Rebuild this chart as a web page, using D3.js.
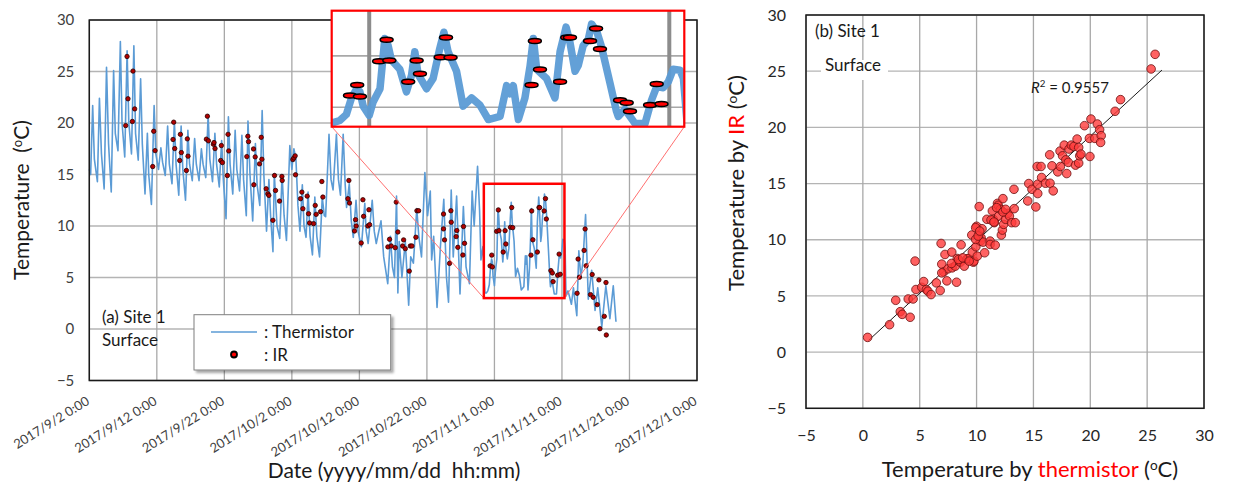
<!DOCTYPE html>
<html>
<head>
<meta charset="utf-8">
<script src="https://cdn.jsdelivr.net/npm/d3@7"></script>
<style>
body { margin: 0; background: #fff; }
svg { font-family: Lato, 'Open Sans', sans-serif; }
svg text { white-space: pre; }
</style>
</head>
<body>
<svg id="chart" width="1240" height="486"></svg>
<script>
// days are counted from 2017/9/2 0:00
const startDate = Date.UTC(2017, 8, 2);
const dateTickDays = [0, 10, 20, 30, 40, 50, 60, 70, 80, 90];
const tempTicks = [-5, 0, 5, 10, 15, 20, 25, 30];
const scatterTicks = [-5, 0, 5, 10, 15, 20, 25, 30];

// thermistor record: [day, temperature]
const thermistor = [
    [0.0, 15.5], [0.2, 15.0], [0.5, 21.7], [0.75, 16.5], [1.2, 14.3], [1.5, 22.4], [1.8, 17], [2.2, 13.6],
    [2.55, 25.4], [2.85, 18], [3.25, 13.3], [3.6, 25.1], [3.85, 19], [4.25, 17.3], [4.6, 27.9], [4.85, 20],
    [5.25, 16.7], [5.6, 27.0], [5.85, 20], [6.25, 17.0], [6.6, 27.5], [6.85, 19], [7.25, 16.4], [7.6, 24.3],
    [7.85, 18], [8.25, 13.1], [8.6, 19.0], [8.8, 15], [9.2, 12.1], [9.6, 21.7], [9.85, 17], [10.25, 15.5],
    [10.6, 17.6], [10.85, 16.2], [11.25, 14.9], [11.6, 19.7], [11.85, 16], [12.25, 14.1], [12.6, 20.2],
    [12.85, 16], [13.25, 13.0], [13.6, 19.7], [13.85, 15.5], [14.25, 12.5], [14.6, 19.3], [14.85, 16],
    [15.25, 14.4], [15.6, 18.5], [15.85, 16], [16.25, 14.4], [16.6, 17.5], [16.85, 16], [17.25, 14.7],
    [17.6, 20.8], [17.85, 16.5], [18.25, 14.3], [18.6, 19.0], [18.85, 16], [19.25, 13.8], [19.6, 18.3],
    [19.85, 14.5], [20.25, 10.7], [20.6, 20.6], [20.85, 16], [21.25, 13.1], [21.6, 19.3], [21.85, 15.5],
    [22.25, 13.4], [22.6, 18.8], [22.85, 14.5], [23.25, 11.0], [23.5, 20.2], [23.8, 15], [24.2, 10.5],
    [24.6, 18], [24.85, 14], [25.25, 12], [25.6, 21.2], [25.85, 15], [26.25, 9.5], [26.6, 14.5], [26.85, 11],
    [27.2, 7.5], [27.4, 15.1], [27.8, 10], [28.2, 8.8], [28.55, 15.0], [28.85, 11], [29.2, 8.6], [29.7, 17.8],
    [30.0, 15.5], [30.3, 17.5], [30.6, 16.5], [30.9, 12], [31.2, 9.5], [31.55, 14], [31.8, 10], [32.1, 8.9],
    [32.4, 13.3], [32.7, 9], [33.05, 7.2], [33.4, 12.8], [33.7, 9], [34.1, 7.0], [34.5, 12.8], [34.8, 11],
    [35.0, 10.9], [35.5, 18.9], [35.8, 14.5], [36.1, 13.5], [36.6, 18.9], [36.9, 14.5], [37.2, 13.0],
    [37.6, 18.9], [37.9, 14], [38.1, 11.8], [38.5, 14.1], [38.8, 10.5], [39.1, 8.9], [39.5, 12.5],
    [39.8, 9.5], [40.3, 8.0], [40.8, 12.2], [41.0, 9.5], [41.3, 8.3], [41.9, 12.5], [42.2, 9.5], [42.5, 8.3],
    [43.2, 10.5], [43.6, 7], [44.2, 4.4], [44.6, 9], [44.9, 6], [45.2, 5], [45.5, 12.9], [45.7, 3.5],
    [45.9, 8.5], [46.3, 5], [46.8, 8.5], [47.3, 2.3], [47.6, 7], [48.0, 6.4], [48.5, 11.7], [48.8, 9],
    [49.2, 7], [49.7, 15.2], [50.1, 11], [50.5, 13.4], [50.7, 6.7], [51.0, 9], [51.5, 2.1], [52.0, 8],
    [52.5, 12.6], [52.9, 5], [53.2, 2.6], [53.6, 13.5], [53.9, 7], [54.4, 12.9], [54.9, 3.4], [55.4, 11.9],
    [55.8, 6], [56.3, 4.4], [56.7, 13.4], [57.0, 10], [57.5, 15.8], [57.8, 11.5], [58.0, 6.7], [58.3, 8],
    [58.6, 3.5], [58.8, 3.5], [59.02, 3.7], [59.24, 4.3], [59.41, 5.9], [59.58, 6.8], [59.69, 6.5],
    [59.8, 5.1], [60.0, 4.2], [60.13, 5.5], [60.36, 6.8], [60.52, 11.7], [60.63, 11.0], [60.74, 9.6],
    [61.02, 8.7], [61.24, 6.5], [61.41, 8.1], [61.52, 10.4], [61.63, 8.2], [61.91, 6.8], [62.13, 7.8],
    [62.35, 10.7], [62.49, 12.3], [62.63, 10.4], [62.91, 8.5], [63.13, 5.1], [63.41, 5.9], [63.69, 5.2],
    [63.97, 3.8], [64.36, 4.1], [64.58, 7.1], [64.69, 6.3], [64.8, 7.1], [64.97, 3.8], [65.19, 5.9],
    [65.36, 9.0], [65.47, 11.7], [65.58, 8.7], [65.91, 7.8], [66.19, 5.9], [66.36, 10.4], [66.56, 12.8],
    [66.69, 11.3], [66.86, 8.5], [66.97, 9.1], [67.13, 11.0], [67.3, 11.6], [67.41, 13.1], [67.58, 12.4],
    [67.74, 10.9], [68.02, 7.4], [68.24, 4.6], [68.3, 4.1], [68.52, 4.8], [68.86, 3.4], [69.19, 3.4],
    [69.41, 5.7], [69.58, 7.0], [69.8, 6.9], [69.97, 7.5], [70.13, 8.7], [70.36, 8.6], [70.47, 7.8],
    [70.6, 3.2], [70.9, 3.7], [71.4, 2.4], [71.7, 4], [72.2, 1.3], [72.5, 7.6], [72.8, 5], [73.1, 6.5],
    [73.5, 11.1], [73.9, 2.9], [74.4, 5.7], [74.9, 1.8], [75.3, 4], [75.9, 0.2], [76.5, 4.2], [77.1, 1.0],
    [77.6, 4.2], [78.0, 0.7]
];

// IR readings: [day, temperature]
const irReadings = [
    [5.39, 19.75], [5.59, 26.46], [5.73, 22.35], [6.38, 20.15], [6.47, 25.04], [6.72, 21.37],
    [9.39, 15.77], [9.54, 19.2], [9.74, 17.32], [12.4, 18.4], [12.5, 20.08], [12.65, 17.52],
    [13.39, 16.36], [13.49, 18.9], [13.63, 17.13], [14.38, 15.39], [14.52, 18.46], [14.62, 16.78],
    [17.34, 18.43], [17.49, 20.66], [17.64, 18.27], [18.38, 17.94], [18.47, 18.1], [18.62, 17.52],
    [19.46, 16.36], [19.56, 17.81], [19.71, 16.16], [20.45, 14.9], [20.55, 18.9], [20.65, 17.29],
    [23.33, 16.74], [23.48, 18.71], [23.58, 18.19], [24.32, 17.48], [24.37, 14.0], [24.57, 16.71],
    [25.21, 16.03], [25.46, 18.61], [25.56, 16.48], [26.2, 13.61], [26.44, 13.13], [26.59, 12.97],
    [27.19, 10.55], [27.43, 14.9], [27.58, 13.45], [28.17, 12.42], [28.52, 14.81], [28.57, 14.42],
    [30.15, 16.45], [30.3, 16.61], [30.49, 16.81], [30.54, 14.97], [31.28, 12.65], [31.48, 13.29],
    [31.63, 11.68], [32.27, 12.9], [32.47, 11.19], [32.62, 10.29], [33.21, 10.23], [33.46, 12.0],
    [33.6, 11.13], [34.25, 11.39], [34.44, 14.32], [34.59, 12.81], [38.3, 12.65], [38.44, 14.42],
    [38.54, 12.23], [39.28, 9.52], [39.43, 10.61], [39.53, 10.0], [40.27, 8.35], [40.52, 12.55],
    [40.62, 10.94], [41.26, 10.0], [41.41, 11.58], [41.51, 10.13], [44.22, 7.97], [44.47, 8.71],
    [44.72, 8.06], [45.31, 7.9], [45.46, 12.32], [45.7, 9.42], [46.4, 8.06], [46.55, 8.65], [46.8, 7.8],
    [47.39, 5.62], [47.54, 8.06], [47.78, 8.06], [48.37, 8.91], [48.52, 11.48], [48.77, 11.48],
    [52.46, 11.16], [52.46, 9.72], [52.61, 8.65], [53.35, 6.37], [53.55, 11.48], [53.6, 10.37],
    [54.33, 8.97], [54.43, 9.56], [54.58, 7.93], [55.32, 7.18], [55.42, 9.95], [55.57, 8.32],
    [59.36, 6.13], [59.6, 7.17], [59.69, 6.03], [60.33, 9.48], [60.58, 11.56], [60.67, 9.55],
    [61.3, 7.47], [61.58, 9.55], [61.69, 8.25], [62.38, 9.87], [62.56, 11.79], [62.71, 9.84],
    [65.41, 7.17], [65.52, 11.46], [65.69, 8.66], [66.36, 7.47], [66.6, 11.79], [66.69, 11.79],
    [67.36, 11.46], [67.56, 12.66], [67.69, 10.68], [68.36, 5.67], [68.58, 5.44], [68.69, 4.6],
    [69.36, 5.22], [69.58, 7.27], [69.74, 5.31], [72.24, 3.47], [72.39, 6.79], [72.59, 5.03],
    [73.28, 7.63], [73.43, 9.71], [73.58, 6.14], [74.23, 3.34], [74.48, 5.29], [74.63, 3.08],
    [75.22, 2.37], [75.47, 4.77], [75.62, 0.03], [76.27, 1.23], [76.52, 4.51], [76.57, -0.58]
];

// paired readings: [thermistor, IR]
const scatterPoints = [
    [0.42, 1.31], [2.35, 2.44], [2.89, 4.61], [3.29, 3.6], [3.46, 3.36], [4.16, 3.1], [3.99, 4.73],
    [4.42, 4.73], [4.59, 8.1], [4.67, 5.57], [5.18, 5.77], [5.35, 6.28], [5.58, 5.57], [5.72, 5.42],
    [6.0, 5.12], [6.46, 6.16], [6.8, 5.48], [6.88, 9.67], [6.94, 7.83], [7.11, 7.14], [7.22, 8.69],
    [7.39, 6.34], [7.48, 7.41], [7.82, 8.9], [7.85, 7.5], [8.13, 7.65], [8.24, 6.22], [8.3, 8.33],
    [8.47, 8.07], [8.64, 9.55], [8.58, 8.0], [8.92, 7.65], [9.15, 8.3], [9.26, 8.33], [9.63, 8.9],
    [9.72, 8.0], [9.58, 10.42], [9.77, 8.1], [9.94, 9.38], [10.0, 11.2], [10.06, 8.54], [10.23, 12.95],
    [10.23, 10.42], [10.4, 10.18], [10.48, 10.98], [10.34, 9.88], [10.71, 8.84], [10.57, 9.79],
    [9.92, 10.03], [10.91, 11.82], [11.19, 9.88], [11.19, 9.58], [11.39, 12.56], [11.47, 11.82],
    [11.56, 11.52], [11.64, 9.52], [11.84, 13.24], [11.9, 13.07], [11.95, 12.11], [12.1, 12.71],
    [12.18, 10.42], [12.27, 10.86], [12.32, 13.66], [12.38, 11.37], [12.55, 11.82], [12.75, 12.35],
    [12.89, 12.11], [13.09, 11.52], [13.31, 12.77], [13.4, 11.52], [13.29, 14.49], [14.5, 13.45],
    [14.59, 15.0], [14.87, 14.49], [15.21, 12.92], [15.38, 14.94], [15.38, 14.11], [15.72, 15.54],
    [15.33, 16.52], [15.67, 16.52], [16.06, 15.03], [16.46, 15.03], [16.74, 14.35], [16.43, 17.56],
    [16.63, 16.58], [17.14, 16.04], [17.37, 16.52], [17.34, 17.89], [17.56, 17.47], [17.71, 18.42],
    [17.85, 17.11], [17.93, 15.89], [18.07, 16.88], [18.13, 18.07], [18.33, 18.42], [18.56, 18.3],
    [18.7, 16.64], [18.84, 18.96], [18.98, 18.21], [18.98, 16.82], [19.07, 17.47], [19.18, 17.62],
    [19.49, 20.15], [19.92, 19.02], [20.06, 20.74], [19.97, 17.41], [20.4, 19.02], [20.62, 20.3],
    [20.82, 19.79], [20.96, 19.26], [20.91, 18.66], [22.18, 21.43], [22.66, 22.47], [25.35, 25.2],
    [25.7, 26.5], [11.27, 11.76], [11.53, 11.58], [11.76, 12.86], [12.32, 12.47], [12.55, 12.71],
    [9.92, 11.07], [10.14, 10.33], [10.28, 10.77], [7.79, 7.89], [8.41, 8.24], [8.78, 8.39],
    [9.35, 8.1], [6.94, 7.05]
];
const fitRange = [0.5, 26.3];

// zoomed window (small red box) and the part shown in the inset
const zoomDays = [58.43, 70.37];
const zoomTemps = [3.0, 14.1];
const insetDays = [58.75, 70.5];
const insetTemps = [3.1, 14.4];
const insetGridDays = [60, 70];
const insetGridTemps = [5, 10];

const dayToDate = (d) => new Date(startDate + d * 864e5);

const svg = d3.select('#chart');
const defs = svg.append('defs');
defs.append('filter').attr('id', 'shadow')
    .append('feDropShadow')
    .attr('dx', 2.5).attr('dy', 2.5).attr('stdDeviation', 1.2)
    .attr('flood-color', '#000').attr('flood-opacity', 0.35);

// ---------- (a) time series ----------
const left = { x0: 89.3, x1: 697, y0: 20, y1: 380.5 };
const x = d3.scaleUtc().domain([dayToDate(0), dayToDate(90)]).range([left.x0, left.x1]);
const y = d3.scaleLinear().domain([-5, 30]).range([left.y1, left.y0]);

const gA = svg.append('g');
gA.append('g').selectAll('line').data(tempTicks).join('line')
    .attr('x1', left.x0).attr('x2', left.x1)
    .attr('y1', (t) => y(t)).attr('y2', (t) => y(t))
    .attr('stroke', '#b4b4b4').attr('stroke-width', 1.3);
gA.append('g').selectAll('line').data(dateTickDays).join('line')
    .attr('x1', (d) => x(dayToDate(d))).attr('x2', (d) => x(dayToDate(d)))
    .attr('y1', left.y0).attr('y2', left.y1)
    .attr('stroke', '#a8a8a8').attr('stroke-width', 1.3);

const yAxisA = gA.append('g')
    .attr('transform', 'translate(' + left.x0 + ',0)')
    .call(d3.axisLeft(y).tickValues(tempTicks).tickSize(0).tickPadding(15));
yAxisA.select('.domain').remove();
yAxisA.selectAll('text').attr('font-size', 15).attr('fill', '#404040').attr('font-family', 'Lato');

const fmt = d3.utcFormat('%Y/%-m/%-d %-H:%M');
gA.append('g').selectAll('text').data(dateTickDays).join('text')
    .attr('transform', (d) => 'translate(' + (x(dayToDate(d)) + 1) + ',' + (left.y1 + 23) + ') rotate(-32)')
    .attr('text-anchor', 'end')
    .attr('font-size', 13).attr('fill', '#404040')
    .text((d) => fmt(dayToDate(d)));

const line = d3.line()
    .x((p) => x(dayToDate(p[0])))
    .y((p) => y(p[1]));
gA.append('path').datum(thermistor)
    .attr('d', line)
    .attr('fill', 'none').attr('stroke', '#5b9bd5').attr('stroke-width', 1.6)
    .attr('stroke-linejoin', 'round');

gA.append('g').selectAll('circle').data(irReadings).join('circle')
    .attr('cx', (p) => x(dayToDate(p[0])))
    .attr('cy', (p) => y(p[1]))
    .attr('r', 2.2)
    .attr('fill', '#b00000').attr('stroke', '#2a0000').attr('stroke-width', 0.8);

gA.append('rect')
    .attr('x', left.x0).attr('y', left.y0)
    .attr('width', left.x1 - left.x0).attr('height', left.y1 - left.y0)
    .attr('fill', 'none').attr('stroke', '#1a1a1a').attr('stroke-width', 1.5);

// small zoom box and connectors
const zb = {
    x0: x(dayToDate(zoomDays[0])), x1: x(dayToDate(zoomDays[1])),
    y0: y(zoomTemps[1]), y1: y(zoomTemps[0])
};
const inset = { x0: 331.7, x1: 684.3, y0: 10.7, y1: 126.7 };
gA.append('line').attr('x1', inset.x0).attr('y1', inset.y1).attr('x2', zb.x0).attr('y2', zb.y1)
    .attr('stroke', '#ff7070').attr('stroke-width', 1);
gA.append('line').attr('x1', inset.x1).attr('y1', inset.y1).attr('x2', zb.x1).attr('y2', zb.y1)
    .attr('stroke', '#ff7070').attr('stroke-width', 1);
gA.append('rect')
    .attr('x', zb.x0).attr('y', zb.y0)
    .attr('width', zb.x1 - zb.x0).attr('height', zb.y1 - zb.y0)
    .attr('fill', 'none').attr('stroke', '#ff0000').attr('stroke-width', 2.5);

// inset
const ix = d3.scaleUtc().domain(insetDays.map(dayToDate)).range([inset.x0, inset.x1]);
const iy = d3.scaleLinear().domain(insetTemps).range([inset.y1, inset.y0]);
defs.append('clipPath').attr('id', 'inset-clip')
    .append('rect')
    .attr('x', inset.x0).attr('y', inset.y0)
    .attr('width', inset.x1 - inset.x0).attr('height', inset.y1 - inset.y0);
const gI = gA.append('g');
gI.append('rect')
    .attr('x', inset.x0).attr('y', inset.y0)
    .attr('width', inset.x1 - inset.x0).attr('height', inset.y1 - inset.y0)
    .attr('fill', '#fff');
const gIc = gI.append('g').attr('clip-path', 'url(#inset-clip)');
gIc.selectAll('line.h').data(insetGridTemps).join('line')
    .attr('class', 'h')
    .attr('x1', inset.x0).attr('x2', inset.x1)
    .attr('y1', (t) => iy(t)).attr('y2', (t) => iy(t))
    .attr('stroke', '#a8a8a8').attr('stroke-width', 1.6);
gIc.selectAll('line.v').data(insetGridDays).join('line')
    .attr('class', 'v')
    .attr('x1', (d) => ix(dayToDate(d))).attr('x2', (d) => ix(dayToDate(d)))
    .attr('y1', inset.y0).attr('y2', inset.y1)
    .attr('stroke', '#8c8c8c').attr('stroke-width', 4);
const insetLine = d3.line()
    .x((p) => ix(dayToDate(p[0])))
    .y((p) => iy(p[1]));
gIc.append('path').datum(thermistor)
    .attr('d', insetLine)
    .attr('fill', 'none').attr('stroke', '#5b9bd5').attr('stroke-width', 7.5)
    .attr('stroke-linejoin', 'round').attr('opacity', 0.95);
gIc.selectAll('ellipse').data(irReadings).join('ellipse')
    .attr('cx', (p) => ix(dayToDate(p[0])))
    .attr('cy', (p) => iy(p[1]))
    .attr('rx', 6.5).attr('ry', 2.5)
    .attr('fill', '#ff0000').attr('stroke', '#000').attr('stroke-width', 1.5);
gI.append('rect')
    .attr('x', inset.x0).attr('y', inset.y0)
    .attr('width', inset.x1 - inset.x0).attr('height', inset.y1 - inset.y0)
    .attr('fill', 'none').attr('stroke', '#ff0000').attr('stroke-width', 2.2);

// labels
gA.append('text').attr('x', 102).attr('y', 323).attr('font-size', 17).attr('fill', '#1a1a1a').text('(a) Site 1');
gA.append('text').attr('x', 102).attr('y', 346).attr('font-size', 17).attr('fill', '#1a1a1a').text('Surface');

const legend = gA.append('g');
legend.append('rect')
    .attr('x', 194).attr('y', 314.7).attr('width', 196.7).attr('height', 55.3)
    .attr('fill', '#fff').attr('stroke', '#7f7f7f').attr('stroke-width', 1)
    .attr('filter', 'url(#shadow)');
legend.append('line').attr('x1', 211).attr('x2', 257).attr('y1', 332).attr('y2', 332)
    .attr('stroke', '#5b9bd5').attr('stroke-width', 1.5);
legend.append('text').attr('x', 264).attr('y', 338).attr('font-size', 17).attr('fill', '#1a1a1a').text(': Thermistor');
legend.append('circle').attr('cx', 234).attr('cy', 354.5).attr('r', 3)
    .attr('fill', '#ff0000').attr('stroke', '#000').attr('stroke-width', 1.8);
legend.append('text').attr('x', 264).attr('y', 361).attr('font-size', 17).attr('fill', '#1a1a1a').text(': IR');

const degLabel = (sel) => {
    sel.append('tspan').text('(');
    sel.append('tspan').attr('dy', -7).attr('font-size', '0.62em').text('o');
    sel.append('tspan').attr('dy', 7).text('C)');
};

gA.append('text')
    .attr('x', 394).attr('y', 478)
    .attr('text-anchor', 'middle').attr('font-size', 21).attr('fill', '#1a1a1a')
    .text('Date (yyyy/mm/dd  hh:mm)');
const yTitleA = gA.append('text')
    .attr('transform', 'translate(29,200) rotate(-90)')
    .attr('text-anchor', 'middle').attr('font-size', 21).attr('fill', '#1a1a1a');
yTitleA.append('tspan').text('Temperature  ');
degLabel(yTitleA);

// ---------- (b) scatter ----------
const right = { x0: 806, x1: 1204, y0: 15, y1: 408.3 };
const sx = d3.scaleLinear().domain([-5, 30]).range([right.x0, right.x1]);
const sy = d3.scaleLinear().domain([-5, 30]).range([right.y1, right.y0]);
const gB = svg.append('g');

gB.append('g').selectAll('line').data(scatterTicks).join('line')
    .attr('x1', right.x0).attr('x2', right.x1)
    .attr('y1', (t) => sy(t)).attr('y2', (t) => sy(t))
    .attr('stroke', '#b4b4b4').attr('stroke-width', 1.3);
gB.append('g').selectAll('line').data(scatterTicks).join('line')
    .attr('x1', (t) => sx(t)).attr('x2', (t) => sx(t))
    .attr('y1', right.y0).attr('y2', right.y1)
    .attr('stroke', '#a8a8a8').attr('stroke-width', 1.3);

const yAxisB = gB.append('g')
    .attr('transform', 'translate(' + right.x0 + ',0)')
    .call(d3.axisLeft(sy).tickValues(scatterTicks).tickSize(0).tickPadding(20));
yAxisB.select('.domain').remove();
yAxisB.selectAll('text').attr('font-size', 16).attr('fill', '#262626').attr('font-family', 'Lato');
const xAxisB = gB.append('g')
    .attr('transform', 'translate(0,' + right.y1 + ')')
    .call(d3.axisBottom(sx).tickValues(scatterTicks).tickSize(0).tickPadding(21));
xAxisB.select('.domain').remove();
xAxisB.selectAll('text').attr('font-size', 16).attr('fill', '#262626').attr('font-family', 'Lato');

// Surface label sits on a white patch over the 25 gridline
gB.append('rect').attr('x', 821).attr('y', 60).attr('width', 67).attr('height', 20).attr('fill', '#fff');
gB.append('text').attr('x', 815).attr('y', 37).attr('font-size', 17).attr('fill', '#1a1a1a').text('(b) Site 1');
gB.append('text').attr('x', 825).attr('y', 71).attr('font-size', 17).attr('fill', '#1a1a1a').text('Surface');

// least squares trend line
const mx = d3.mean(scatterPoints, (p) => p[0]);
const my = d3.mean(scatterPoints, (p) => p[1]);
const slope = d3.sum(scatterPoints, (p) => (p[0] - mx) * (p[1] - my)) /
    d3.sum(scatterPoints, (p) => (p[0] - mx) * (p[0] - mx));
const intercept = my - slope * mx;
gB.append('line')
    .attr('x1', sx(fitRange[0])).attr('y1', sy(intercept + slope * fitRange[0]))
    .attr('x2', sx(fitRange[1])).attr('y2', sy(intercept + slope * fitRange[1]))
    .attr('stroke', '#1a1a1a').attr('stroke-width', 1);

gB.append('g').selectAll('circle').data(scatterPoints).join('circle')
    .attr('cx', (p) => sx(p[0]))
    .attr('cy', (p) => sy(p[1]))
    .attr('r', 4.3)
    .attr('fill', '#ff3b3b').attr('fill-opacity', 0.8)
    .attr('stroke', '#6b1010').attr('stroke-width', 0.8);

const r2 = gB.append('text').attr('x', 1031).attr('y', 93).attr('font-size', 15).attr('fill', '#1a1a1a');
r2.append('tspan').attr('font-style', 'italic').text('R');
r2.append('tspan').attr('dy', -6).attr('font-size', '0.65em').text('2');
r2.append('tspan').attr('dy', 6).text(' = 0.9557');

gB.append('rect')
    .attr('x', right.x0).attr('y', right.y0)
    .attr('width', right.x1 - right.x0).attr('height', right.y1 - right.y0)
    .attr('fill', 'none').attr('stroke', '#1a1a1a').attr('stroke-width', 1.5);

const xTitleB = gB.append('text')
    .attr('x', 1030).attr('y', 477)
    .attr('text-anchor', 'middle').attr('font-size', 22).attr('fill', '#1a1a1a');
xTitleB.append('tspan').text('Temperature by ');
xTitleB.append('tspan').attr('fill', '#ff0000').text('thermistor');
xTitleB.append('tspan').text(' ');
degLabel(xTitleB);

const yTitleB = gB.append('text')
    .attr('transform', 'translate(744,183) rotate(-90)')
    .attr('text-anchor', 'middle').attr('font-size', 22).attr('fill', '#1a1a1a');
yTitleB.append('tspan').text('Temperature by ');
yTitleB.append('tspan').attr('fill', '#ff0000').text('IR');
yTitleB.append('tspan').text(' ');
degLabel(yTitleB);
</script>
</body>
</html>
